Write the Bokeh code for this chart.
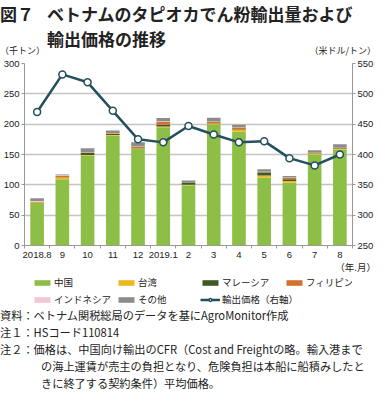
from bokeh.plotting import figure
from bokeh.models import (Range1d, LinearAxis, FixedTicker, Legend, LegendItem,
                          ColumnDataSource, Div)
from bokeh.layouts import column
from bokeh.embed import file_html
from bokeh.resources import INLINE

# ---- data ----
months = ["2018.8", "9", "10", "11", "12", "2019.1", "2", "3", "4", "5", "6", "7", "8"]
china = [70, 109, 148, 181, 159, 195, 99, 200, 188, 112, 104, 150, 158]
taiwan = [1, 3, 1, 1, 1, 1, 1, 1, 3, 3.5, 2.5, 2, 2]
malaysia = [0, 0.5, 3.5, 2, 0.5, 3, 4, 0.5, 0.5, 5, 2.5, 1, 1]
philippines = [1, 2, 0.5, 1, 2, 5, 0, 2.5, 3, 0.5, 2.5, 0.5, 0.5]
indonesia = [1.5, 1.5, 0.5, 0.5, 0.5, 1, 0, 0.5, 0.5, 0.5, 0.5, 0, 0]
others = [4.5, 1, 7, 4, 7, 5, 3, 6, 4, 4, 2.5, 3.5, 5.5]
price = [470, 532, 519, 472, 425, 420, 447, 433, 420, 422, 394, 382, 400]

series_names = ["中国", "台湾", "マレーシア", "フィリピン", "インドネシア", "その他"]
series_keys = ["china", "taiwan", "malaysia", "philippines", "indonesia", "others"]
series_colors = ["#8DBE45", "#EDB81C", "#3E5A26", "#D2712C", "#F2C6D2", "#8C8C8C"]
line_color = "#24505E"
price_name = "輸出価格（右軸）"

title_prefix = "図７"
title_line1 = "ベトナムのタピオカでん粉輸出量および"
title_line2 = "輸出価格の推移"
unit_left = "（千トン）"
unit_right = "（米ドル/トン）"
unit_x = "（年.月）"
notes = [
    "資料：ベトナム関税総局のデータを基にAgroMonitor作成",
    "注１：HSコード110814",
    "注２：価格は、中国向け輸出のCFR（Cost and Freightの略。輸入港まで",
    "の海上運賃が売主の負担となり、危険負担は本船に船積みしたと",
    "きに終了する契約条件）平均価格。",
]

JP = "Noto Sans CJK JP"
NUM = "Liberation Sans"
TXT = "#222222"

W = 376
H_TOP, H_MAIN, H_UNIT, H_LEG, H_BOT = 58, 204, 12, 34, 86
L, R_B = 22, 22


def span(text, left=None, right=None, cy=0, size=11, bold=False):
    pos = f"left:{left}px;" if left is not None else f"right:{right}px;"
    return (f'<span style="position:absolute;{pos}top:{cy - size * 0.6:.1f}px;'
            f'font-size:{size}px;line-height:{size * 1.2:.1f}px;white-space:nowrap;'
            f'font-weight:{"bold" if bold else "normal"};">{text}</span>')


def box(h, inner):
    return (f'<div style="position:relative;width:{W}px;height:{h}px;overflow:visible;'
            f"font-family:'{JP}';color:{TXT};\">{inner}</div>")


# ---- top: title + units ----
top = Div(text=box(H_TOP, "".join([
    span(title_prefix, left=0, cy=14, size=17, bold=True),
    span(title_line1, left=47, cy=14, size=17, bold=True),
    span(title_line2, left=47, cy=39, size=17, bold=True),
    span(unit_left, left=0, cy=51, size=9),
    span(unit_right, right=0, cy=51, size=9),
])), width=W, height=H_TOP, margin=0)

# ---- main chart ----
xs = list(range(len(months)))
src = ColumnDataSource(dict(x=xs, china=china, taiwan=taiwan, malaysia=malaysia,
                            philippines=philippines, indonesia=indonesia, others=others,
                            price=price))

p = figure(width=W, height=H_MAIN, output_backend="svg", toolbar_location=None,
           x_range=Range1d(-0.5, len(months) - 0.5), y_range=Range1d(0, 300),
           min_border_left=L, min_border_right=R_B, min_border_top=5,
           min_border_bottom=17, y_axis_location=None, x_axis_location=None)
p.outline_line_color = None
p.background_fill_color = "white"
p.border_fill_color = "white"
p.extra_y_ranges = {"price": Range1d(250, 550)}

xaxis = LinearAxis(ticker=FixedTicker(ticks=xs, minor_ticks=[i - 0.5 for i in range(len(months) + 1)]))
xaxis.major_label_overrides = {i: m for i, m in enumerate(months)}
xaxis.major_tick_out = 0
xaxis.major_tick_in = 0
xaxis.minor_tick_out = 3
xaxis.minor_tick_in = 0
xaxis.minor_tick_line_color = "#999999"
xaxis.axis_line_color = "#999999"
xaxis.major_label_text_font = NUM
xaxis.major_label_text_font_size = "9.5px"
xaxis.major_label_text_color = TXT
xaxis.major_label_standoff = 3
p.add_layout(xaxis, "below")

yl = LinearAxis(ticker=FixedTicker(ticks=[0, 50, 100, 150, 200, 250, 300]))
yr = LinearAxis(y_range_name="price", ticker=FixedTicker(ticks=[250, 300, 350, 400, 450, 500, 550]))
for ax in (yl, yr):
    ax.major_tick_out = 3
    ax.major_tick_in = 0
    ax.minor_tick_out = 0
    ax.minor_tick_in = 0
    ax.axis_line_color = "#999999"
    ax.major_tick_line_color = "#999999"
    ax.major_label_text_font = NUM
    ax.major_label_text_font_size = "9.5px"
    ax.major_label_text_color = TXT
    ax.major_label_standoff = 2
p.add_layout(yl, "left")
p.add_layout(yr, "right")

p.xgrid.visible = False
p.ygrid.ticker = FixedTicker(ticks=[50, 100, 150, 200, 250, 300])
p.ygrid.grid_line_color = "#C4C4C4"
p.ygrid.grid_line_width = 1.5

p.vbar_stack(series_keys, x="x", width=0.54, source=src,
             color=series_colors, line_color=None)
p.line("x", "price", source=src, y_range_name="price", color=line_color, line_width=2.5)
p.scatter("x", "price", source=src, y_range_name="price", size=7,
          fill_color="white", line_color=line_color, line_width=1.5)

# ---- x unit label ----
unit_div = Div(text=box(H_UNIT, span(unit_x, right=0, cy=6, size=9.5)),
               width=W, height=H_UNIT, margin=0)

# ---- legend strip (legend glyphs drawn from off-screen renderers with same styles) ----
lg = figure(width=W, height=H_LEG, output_backend="svg", toolbar_location=None,
            x_range=Range1d(0, 1), y_range=Range1d(0, 1),
            min_border_left=L, min_border_right=R_B, min_border_top=0, min_border_bottom=0,
            x_axis_location=None, y_axis_location=None)
lg.outline_line_color = None
lg.grid.visible = False
lg.border_fill_color = "white"
lg.background_fill_color = "white"

leg_r = [lg.rect(x=[-10], y=[-10], width=1, height=1, fill_color=c, line_color=None)
         for c in series_colors]
lr_line = lg.line(x=[-10, -9], y=[-10, -10], color=line_color, line_width=2.5)
lr_mk = lg.scatter(x=[-10], y=[-10], size=7, fill_color="white", line_color=line_color,
                   line_width=1.5)


def make_legend(items, y):
    return Legend(items=items, location=(8, y), orientation="horizontal",
                  glyph_width=20, glyph_height=7, label_standoff=2, padding=0, margin=0,
                  spacing=4, label_width=58, label_height=14, label_text_font=JP,
                  label_text_font_size="9.5px", label_text_color=TXT,
                  border_line_color=None, background_fill_alpha=0)


row1 = [LegendItem(label=series_names[i], renderers=[leg_r[i]]) for i in range(4)]
row2 = [LegendItem(label=series_names[i], renderers=[leg_r[i]]) for i in range(4, 6)]
row2.append(LegendItem(label=price_name, renderers=[lr_line, lr_mk]))
lg.add_layout(make_legend(row1, 19), "center")
lg.add_layout(make_legend(row2, 2), "center")

# ---- bottom: notes ----
note_pos = [(0, 8), (0, 25), (0, 42), (41, 59), (41, 76)]
bot = Div(text=box(H_BOT, "".join(span(t, left=x, cy=y, size=11.2)
                                   for t, (x, y) in zip(notes, note_pos))),
          width=W, height=H_BOT, margin=0)

layout = column(top, p, unit_div, lg, bot, spacing=0)
open("out.html", "w").write(file_html(layout, INLINE))
